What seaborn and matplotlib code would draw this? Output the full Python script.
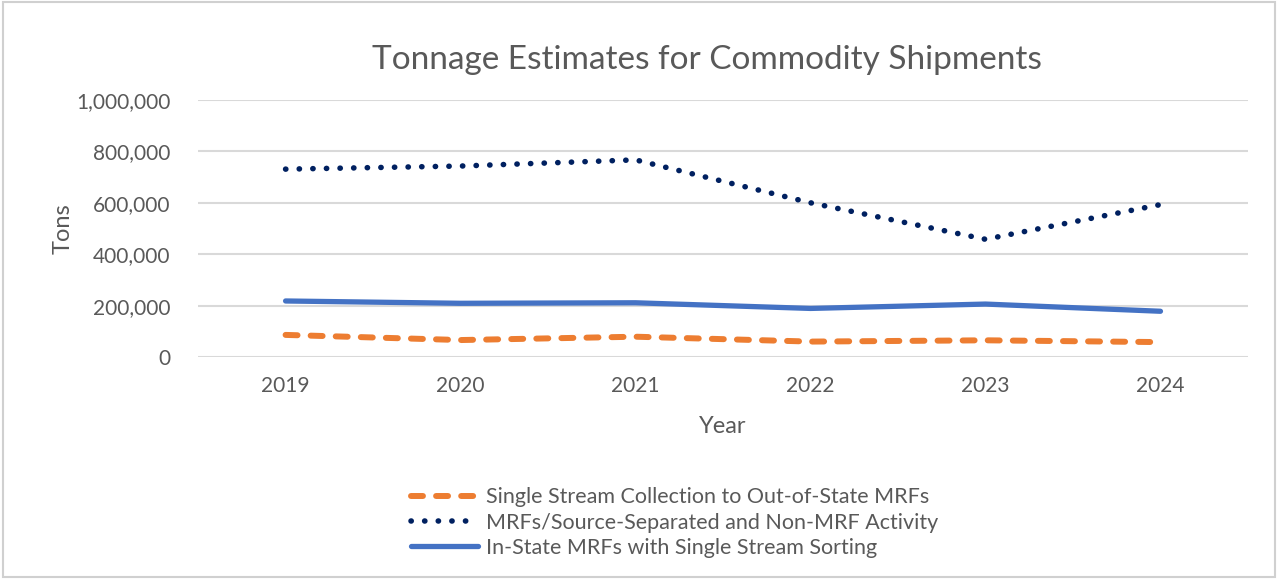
import pandas as pd
import seaborn as sns
import matplotlib.pyplot as plt
from matplotlib.patches import Rectangle

# Dados
years = [2019, 2020, 2021, 2022, 2023, 2024]
out_of_state = [86000, 66000, 79000, 60000, 65000, 58000]
non_mrf = [731000, 743000, 767000, 600000, 458000, 593000]
in_state = [218000, 209000, 211000, 189000, 206000, 178000]

labels = [
    "Single Stream Collection to Out-of-State MRFs",
    "MRFs/Source-Separated and Non-MRF Activity",
    "In-State MRFs with Single Stream Sorting",
]

sns.set_style("white")
plt.rcParams["font.family"] = ["Lato", "DejaVu Sans"]
gray = "#595959"

fig = plt.figure(figsize=(12.78, 5.79), dpi=100)
ax = fig.add_axes([0.155, 0.3834, 0.8215, 0.4439])

# moldura da figura
fig.patches.append(Rectangle((0.002, 0.004), 0.996, 0.992, transform=fig.transFigure,
                             fill=False, edgecolor="#D0D0D0", linewidth=1.5))

sns.lineplot(x=years, y=out_of_state, ax=ax, color="#ED7D31", linewidth=4.3,
             label=labels[0], dashes=False)
sns.lineplot(x=years, y=non_mrf, ax=ax, color="#002060", linewidth=4.0,
             label=labels[1], dashes=False)
sns.lineplot(x=years, y=in_state, ax=ax, color="#4472C4", linewidth=3.8,
             label=labels[2], dashes=False)

lines = ax.get_lines()
lines[0].set_linestyle((0, (2.0, 2.2)))
lines[0].set_dash_capstyle("round")
lines[1].set_linestyle((0, (0.05, 2.4)))
lines[1].set_dash_capstyle("round")
lines[2].set_solid_capstyle("round")

ax.set_xlim(2018.5, 2024.5)
ax.set_ylim(0, 1000000)
ax.set_xticks(years)
ax.set_yticks(range(0, 1000001, 200000))
ax.yaxis.set_major_formatter(plt.FuncFormatter(lambda v, p: f"{int(v):,}"))
ax.grid(axis="y", color="#D9D9D9", linewidth=1.5)
ax.set_axisbelow(True)
sns.despine(ax=ax, left=True, bottom=True)
ax.tick_params(axis="both", length=0, labelsize=15, colors=gray)
ax.tick_params(axis="y", pad=20)
ax.tick_params(axis="x", pad=14)

ax.set_xlabel("Year", fontsize=17, color=gray, labelpad=14)
ax.set_ylabel("Tons", fontsize=17, color=gray, labelpad=2)
ax.set_title("Tonnage Estimates for Commodity Shipments", fontsize=24, color=gray,
             pad=22, x=0.485)

handles, lbls = ax.get_legend_handles_labels()
ax.get_legend().remove()
fig.legend(handles, lbls, loc="upper center", bbox_to_anchor=(0.528, 0.192),
           frameon=False, fontsize=15.5, handlelength=3.1, labelspacing=0.25,
           handletextpad=0.4, labelcolor=gray)

plt.savefig("out.png", dpi=100)
